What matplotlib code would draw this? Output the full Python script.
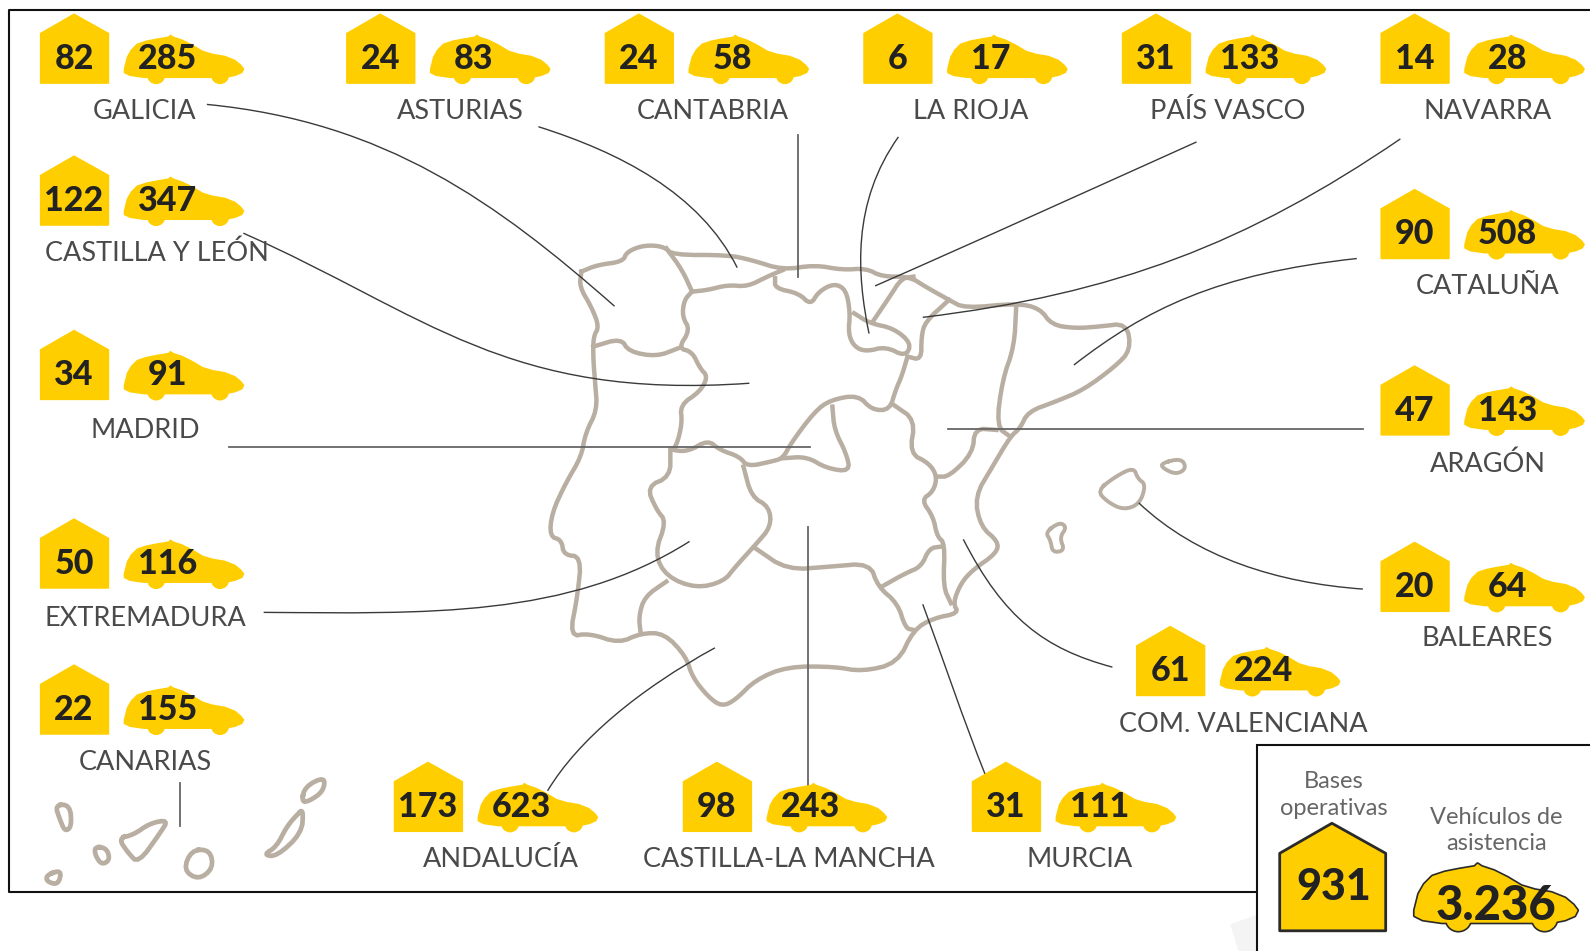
import matplotlib
matplotlib.use("Agg")
import matplotlib.pyplot as plt
from matplotlib.patches import PathPatch, Polygon, Circle, Rectangle
from matplotlib.path import Path

plt.rcParams["font.family"] = ["Lato", "DejaVu Sans"]

yellow = "#FFCE00"
map_color = "#B9AEA2"
ink = "#222222"
label_color = "#4A4A4A"


#%%
# datos
regions = ["GALICIA", "ASTURIAS", "CANTABRIA", "LA RIOJA", "PAÍS VASCO", "NAVARRA",
           "CASTILLA Y LEÓN", "MADRID", "EXTREMADURA", "CANARIAS",
           "CATALUÑA", "ARAGÓN", "BALEARES", "COM. VALENCIANA",
           "ANDALUCÍA", "CASTILLA-LA MANCHA", "MURCIA"]
bases = [82, 24, 24, 6, 31, 14, 122, 34, 50, 22, 90, 47, 20, 61, 173, 98, 31]
vehicles = [285, 83, 58, 17, 133, 28, 347, 91, 116, 155, 508, 143, 64, 224, 623, 243, 111]
total_bases = "931"
total_vehicles = "3.236"


#%%
# posiciones
house_x = [40, 342, 597, 852, 1107, 1362, 40, 40, 40, 40, 1362, 1362, 1362, 1121, 389, 674, 959]
house_y = [14, 14, 14, 14, 14, 14, 154, 326, 512, 656, 187, 361, 535, 618, 752, 752, 752]
label_x = [143, 454, 703, 957, 1211, 1467, 155, 143, 143, 143, 1467, 1467, 1467, 1226, 494, 778, 1065]
label_y = [108, 108, 108, 108, 108, 108, 248, 423, 608, 750, 281, 456, 628, 713, 846, 846, 846]

house_shape = [(0, 68), (0, 19), (33, 0), (67, 19), (67, 68)]
car_shape = [(1, 50), (3, 42), (7, 35), (13, 29), (22, 26), (32, 24), (44, 22), (46, 20), (49, 22),
             (58, 25), (68, 30), (78, 36), (88, 39), (100, 41), (110, 45), (116, 50), (119, 54),
             (117, 58), (110, 61), (100, 63), (20, 63), (6, 61), (0, 58), (0, 54)]
car_wheels = [(32, 60, 9), (95, 60, 9)]


def z(points):
    return [((530+x/2.53)/1.014, (220+y/3)/1.014) for x, y in points]


def c(points):
    return [((x/3)/1.014, (740+y/3)/1.014) for x, y in points]


def smooth(points, closed=False, rounds=2):
    # redondea las esquinas del contorno
    for _ in range(rounds):
        new = [points[0]] if not closed else []
        for a, b in zip(points[:-1], points[1:]):
            new.append((0.75*a[0]+0.25*b[0], 0.75*a[1]+0.25*b[1]))
            new.append((0.25*a[0]+0.75*b[0], 0.25*a[1]+0.75*b[1]))
        new.append(new[0] if closed else points[-1])
        points = new
    return points


coast = [(130, 155), (170, 135), (235, 125), (245, 95), (290, 75), (340, 80), (360, 105), (500, 105),
         (560, 120), (640, 150), (720, 135), (790, 150), (850, 145), (890, 170), (960, 170), (1000, 200),
         (1060, 240), (1100, 265), (1230, 250), (1290, 265), (1320, 315), (1380, 325), (1440, 320),
         (1510, 310), (1520, 390), (1480, 440), (1400, 510), (1330, 545), (1260, 575), (1240, 625),
         (1215, 650), (1170, 740), (1125, 830), (1140, 920), (1185, 965), (1180, 1000), (1120, 1050),
         (1090, 1090), (1070, 1150), (1085, 1180), (1020, 1195), (970, 1230), (930, 1330), (840, 1355),
         (770, 1340), (650, 1340), (570, 1380), (520, 1440), (485, 1460), (450, 1430), (410, 1370),
         (395, 1310), (340, 1240), (280, 1240), (225, 1270), (150, 1240), (100, 1250), (120, 1130),
         (130, 1010), (85, 1005), (80, 960), (50, 950), (55, 880), (90, 790), (130, 710), (140, 640),
         (170, 570), (165, 490), (160, 420), (160, 350), (175, 320), (155, 260), (125, 200), (130, 155)]
borders = [
    [(345, 85), (385, 150), (410, 215)],
    [(410, 215), (450, 210), (500, 195), (550, 200), (600, 170), (640, 150)],
    [(620, 175), (620, 205), (680, 220), (710, 255), (730, 215), (770, 190), (800, 210), (810, 280),
     (805, 340), (820, 380), (850, 395), (900, 380), (950, 410), (965, 370), (920, 325), (860, 310), (820, 280)],
    [(410, 215), (390, 240), (385, 290), (405, 330), (375, 385), (410, 395), (430, 445), (450, 470),
     (430, 515), (380, 555), (385, 610), (370, 680), (355, 690), (400, 695), (450, 660), (480, 690),
     (530, 710), (550, 740), (610, 725), (640, 715), (660, 670), (720, 575), (760, 540), (830, 525),
     (865, 570), (910, 570), (925, 510), (940, 470), (955, 410)],
    [(160, 380), (230, 355), (250, 395), (320, 410), (375, 385)],
    [(355, 690), (355, 770), (295, 800), (320, 870), (345, 905), (315, 1000), (345, 1070), (420, 1105),
     (490, 1085), (520, 1040), (570, 975), (610, 920), (605, 860), (560, 830), (540, 740)],
    [(920, 555), (975, 600), (960, 700), (1010, 730), (1030, 770), (1020, 815), (990, 840), (1020, 890),
     (1030, 950), (1050, 970), (1045, 1100), (1065, 1150)],
    [(570, 985), (650, 1050), (760, 1040), (860, 1030), (880, 1100), (930, 1150), (950, 1225), (970, 1230)],
    [(890, 1100), (950, 1060), (990, 1040), (1010, 985), (1040, 980)],
    [(765, 560), (770, 630), (800, 700), (810, 755), (750, 745), (700, 710), (640, 715)],
    [(870, 300), (910, 230), (940, 175), (970, 170)],
    [(1060, 240), (1000, 305), (990, 350), (990, 420), (955, 410)],
    [(1230, 260), (1225, 380), (1195, 480), (1180, 620), (1215, 650)],
    [(1180, 630), (1125, 625), (1120, 700), (1060, 770), (1030, 770)],
    [(345, 1085), (290, 1130), (275, 1190), (280, 1240)],
]
baleares = [
    [(1082, 484), (1100, 470), (1118, 461), (1122, 472), (1130, 478), (1124, 497), (1108, 503), (1092, 495), (1082, 484)],
    [(1145, 457), (1165, 452), (1170, 462), (1160, 468), (1147, 462), (1145, 457)],
    [(1031, 525), (1045, 515), (1052, 520), (1045, 530), (1050, 543), (1038, 545), (1036, 533), (1031, 525)],
]
canarias = [
    [(165, 195), (210, 195), (215, 260), (195, 275), (180, 240), (165, 195)],
    [(285, 320), (320, 325), (330, 360), (305, 375), (285, 345), (285, 320)],
    [(355, 295), (400, 285), (450, 250), (505, 240), (480, 280), (415, 370), (385, 340), (355, 295)],
    [(575, 330), (630, 330), (640, 385), (595, 420), (550, 390), (575, 330)],
    [(140, 405), (185, 390), (175, 435), (140, 425), (140, 405)],
    [(895, 220), (910, 210), (905, 280), (830, 350), (790, 345), (830, 320), (860, 260), (895, 220)],
    [(905, 185), (915, 140), (975, 110), (970, 155), (925, 185), (905, 185)],
]

# líneas guía: inicio, controles, final
leaders = [
    [(204, 103), (380, 120), (490, 200), (606, 302)],
    [(531, 125), (610, 150), (690, 190), (727, 264)],
    [(886, 135), (840, 200), (845, 270), (857, 329)],
    [(1180, 140), (1080, 185), (970, 235), (863, 282)],
    [(1381, 137), (1230, 240), (1100, 290), (910, 313)],
    [(240, 230), (420, 310), (500, 395), (739, 378)],
    [(1338, 255), (1200, 270), (1130, 305), (1059, 360)],
    [(1123, 496), (1180, 550), (1260, 575), (1344, 581)],
    [(260, 604), (420, 605), (560, 610), (680, 534)],
    [(705, 639), (630, 680), (570, 730), (540, 780)],
    [(910, 596), (930, 650), (950, 710), (972, 765)],
    [(950, 532), (990, 610), (1030, 640), (1097, 658)],
]
straight_leaders = [
    [(787, 133), (787, 273)],
    [(226, 441), (799, 441)],
    [(1344, 423), (935, 423)],
    [(797, 520), (797, 775)],
    [(178, 772), (178, 815)],
]


#%%
fig = plt.figure(figsize=(15.9, 9.51), dpi=100)
ax = fig.add_axes([0, 0, 1, 1])
ax.set_xlim(0, 1568)
ax.set_ylim(938, 0)
ax.axis("off")

# marco
ax.plot([1568, 9, 9, 1240], [10, 10, 880, 880], color="#111111", linewidth=1.5, zorder=1)
ax.add_patch(Polygon([(1214, 912), (1240, 903), (1240, 938), (1222, 938)], color="#F4F4F4", zorder=0))

# mapa
for line in [coast]+borders:
    pts = smooth(z(line))
    ax.plot([p[0] for p in pts], [p[1] for p in pts], color=map_color, linewidth=3.2,
            solid_joinstyle="round", zorder=2)
for line in baleares:
    pts = smooth(line, closed=True)
    ax.plot([p[0] for p in pts], [p[1] for p in pts], color=map_color, linewidth=2.8, zorder=2)
for line in canarias:
    pts = smooth(c(line), closed=True)
    ax.plot([p[0] for p in pts], [p[1] for p in pts], color=map_color, linewidth=3.4, zorder=2)

# líneas guía
for pts in leaders:
    path = Path(pts, [Path.MOVETO, Path.CURVE4, Path.CURVE4, Path.CURVE4])
    ax.add_patch(PathPatch(path, facecolor="none", edgecolor="#3A3A3A", linewidth=1, zorder=3))
for pts in straight_leaders:
    ax.plot([pts[0][0], pts[1][0]], [pts[0][1], pts[1][1]], color="#666666", linewidth=1.3, zorder=3)


def car_patches(x0, y0, scale, zorder, **kw):
    pts = [(x0+x*scale, y0+y*scale) for x, y in car_shape]
    ax.add_patch(Polygon(pts, closed=True, joinstyle="round", zorder=zorder, **kw))
    for wx, wy, r in car_wheels:
        ax.add_patch(Circle((x0+wx*scale, y0+wy*scale), r*scale, zorder=zorder, **kw))


# iconos y textos por comunidad
for i in range(len(regions)):
    hx, hy = house_x[i], house_y[i]
    ax.add_patch(Polygon([(hx+x, hy+y) for x, y in house_shape], closed=True, color=yellow, zorder=4))
    car_patches(hx+82, hy, 1.0, 4, facecolor=yellow, edgecolor="none")
    ax.text(hx+33, hy+44, str(bases[i]), ha="center", va="center", fontsize=24.5, fontweight="black",
            color=ink, zorder=5)
    ax.text(hx+125, hy+44, str(vehicles[i]), ha="center", va="center", fontsize=24.5, fontweight="black",
            color=ink, zorder=5)
    ax.text(label_x[i], label_y[i]+2, regions[i], ha="center", va="center", fontsize=19.5,
            color=label_color, zorder=5)

# recuadro del total
ax.add_patch(Rectangle((1240, 735), 400, 300, facecolor="white", edgecolor="#111111", linewidth=1.5, zorder=6))
ax.text(1315, 771, "Bases", ha="center", va="center", fontsize=17, color="#666666", zorder=7)
ax.text(1315, 797, "operativas", ha="center", va="center", fontsize=17, color="#666666", zorder=7)
ax.text(1476, 806, "Vehículos de", ha="center", va="center", fontsize=17, color="#666666", zorder=7)
ax.text(1476, 832, "asistencia", ha="center", va="center", fontsize=17, color="#666666", zorder=7)

house_scale = 1.56
ax.add_patch(Polygon([(1262+x*house_scale, 812+y*house_scale) for x, y in house_shape], closed=True,
                     facecolor=yellow, edgecolor="#2A2A2A", linewidth=2, joinstyle="round", zorder=7))
# contorno punteado: primero el borde y encima el relleno sin borde
car_patches(1395, 825, 1.35, 7, facecolor=yellow, edgecolor="#2A2A2A", linewidth=2.4)
car_patches(1395, 825, 1.35, 7.1, facecolor=yellow, edgecolor="none")
car_patches(1395, 825, 1.35, 6.9, facecolor="none", edgecolor="white", linewidth=0.8, linestyle=(0, (2, 6)))
ax.text(1315, 875, total_bases, ha="center", va="center", fontsize=31, fontweight="black", color=ink, zorder=8)
ax.text(1475, 894, total_vehicles, ha="center", va="center", fontsize=34, fontweight="black", color=ink, zorder=8)

fig.savefig("out.png", dpi=100)
